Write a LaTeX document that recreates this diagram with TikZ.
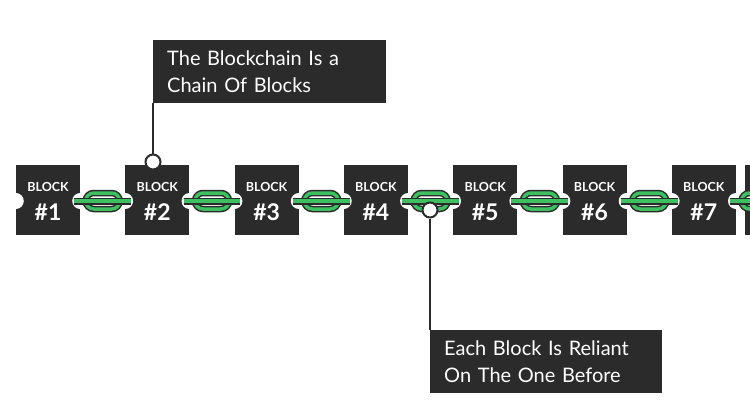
\documentclass[tikz,border=0pt]{standalone}
\usepackage{fontspec}
\setmainfont{Lato}
\begin{document}
\begin{tikzpicture}[x=1pt,y=-1pt,
  blk/.style={fill=dk,minimum width=64pt,minimum height=70pt,inner sep=0pt},
  callout/.style={fill=dk,text=white,align=left,anchor=north west,minimum height=63pt,inner sep=0pt,text width=205pt,font=\fontsize{20}{27}\selectfont,inner xsep=14pt},
  pin/.style={circle,fill=white,draw=dk,line width=2pt,minimum size=15pt,inner sep=0pt}]
\definecolor{dk}{HTML}{2B2B2B}
\definecolor{gr}{HTML}{3CC060}
\useasboundingbox (0,0) rectangle (750,418);
\fill[white] (0,0) rectangle (750,418);
% blocks
\foreach \i in {1,...,7}{
  \pgfmathsetmacro\cx{48+109.3*(\i-1)}
  \node[blk] (b\i) at (\cx,200) {};
  \node[text=white,font=\bfseries\fontsize{12.5}{14}\selectfont] at (\cx,187) {BLOCK};
  \node[text=white,font=\bfseries\fontsize{23}{26}\selectfont] at (\cx,212) {\#\i};
}
\node[blk,anchor=west] (b8) at (745,200) {};
% notches
\foreach \i in {1,...,7}{
  \fill[white] (b\i.east)++(0,1) circle (8);
  \fill[white] (b\i.west)++(0,1) circle (8);
}
\fill[white] (b8.west)++(0,1) circle (8);
% chains
\foreach \i [count=\j from 2] in {1,...,7}{
  \path (b\i.east) ++(22.5,1) coordinate (m\i);
  \draw[dk,line width=7pt] ([xshift=-6]b\i.east|-m\i) -- ([xshift=6]b\j.west|-m\i);
  \draw[gr,line width=4.2pt] ([xshift=-6]b\i.east|-m\i) -- ([xshift=6]b\j.west|-m\i);
  \draw[dk,line width=6.5pt,rounded corners=8pt] ([shift={(-17,-8)}]m\i) rectangle ([shift={(17,8)}]m\i);
  \draw[gr,line width=3.5pt,rounded corners=8pt] ([shift={(-17,-8)}]m\i) rectangle ([shift={(17,8)}]m\i);
  \draw[dk,line width=7pt] ([xshift=-6]b\i.east|-m\i) -- ([xshift=-10]m\i) ([xshift=10]m\i) -- ([xshift=6]b\j.west|-m\i);
  \draw[gr,line width=4.2pt] ([xshift=-6]b\i.east|-m\i) -- ([xshift=-10]m\i) ([xshift=10]m\i) -- ([xshift=6]b\j.west|-m\i);
}
% callouts
\node[callout] (c1) at (153,40) {The Blockchain Is a\\Chain Of Blocks};
\node[pin] (p1) at (153,162) {};
\draw[dk,line width=2pt] (c1.south west) -- (p1);
\node[callout,text width=204pt] (c2) at (430,330) {Each Block Is Reliant\\On The One Before};
\node[pin] (p2) at (430,210) {};
\draw[dk,line width=2pt] (p2) -- (c2.north west);
\end{tikzpicture}
\end{document}
